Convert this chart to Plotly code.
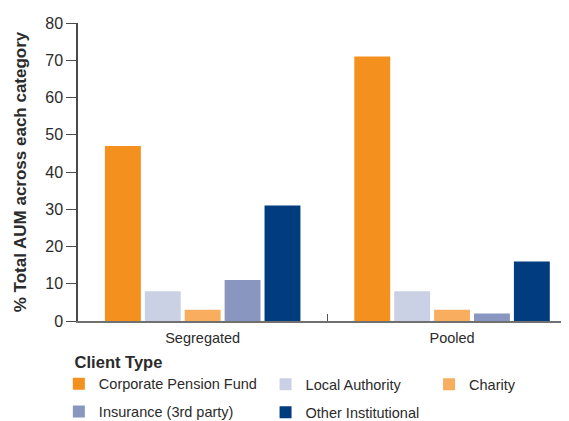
import plotly.graph_objects as go

categories = ["Segregated", "Pooled"]
client_types = ["Corporate Pension Fund", "Local Authority", "Charity",
                "Insurance (3rd party)", "Other Institutional"]
corporate_pension_fund = [47, 71]
local_authority = [8, 8]
charity = [3, 3]
insurance_3rd_party = [11, 2]
other_institutional = [31, 16]
y_ticks = [0, 10, 20, 30, 40, 50, 60, 70, 80]

series = [corporate_pension_fund, local_authority, charity,
          insurance_3rd_party, other_institutional]
colors = ["#F3901E", "#CAD1E5", "#F9AE5F", "#8896C0", "#013D7E"]
legend_ids = ["legend", "legend2", "legend3", "legend", "legend2"]

TXT = "#2b2b2b"
FONT = "Liberation Sans, Arial, Helvetica, sans-serif"

fig = go.Figure()
for name, vals, col, lg in zip(client_types, series, colors, legend_ids):
    fig.add_trace(go.Bar(
        x=categories, y=vals, name=name, marker_color=col,
        marker_line_width=0, legend=lg, legendgroup=name,
        hoverinfo="x+y+name",
    ))

legend_common = dict(
    orientation="v", bgcolor="rgba(0,0,0,0)", borderwidth=0,
    font=dict(family=FONT, size=14.5, color=TXT),
    traceorder="grouped", tracegroupgap=6, xanchor="left", yanchor="top",
    itemclick=False, itemdoubleclick=False,
)

# the page body adds an 8px margin, so the figure is 8px smaller
fig.update_layout(
    width=561, height=413,
    margin=dict(l=70, r=0, t=15, b=100, autoexpand=False),
    paper_bgcolor="white", plot_bgcolor="white",
    font=dict(family=FONT, size=14.5, color=TXT),
    barmode="group", bargap=0.2, bargroupgap=0.1,
    showlegend=True,
    legend=dict(**legend_common, x=-0.039, y=-0.085,
                title=dict(text="\u00a0\u00a0\u00a0<b>Client Type</b>",
                           font=dict(family=FONT, size=16.5, color=TXT))),
    legend2=dict(**legend_common, x=0.382, y=-0.159),
    legend3=dict(**legend_common, x=0.715, y=-0.159),
    xaxis=dict(
        range=[-0.5, 1.469], showline=True, linecolor="#707070", linewidth=2,
        ticks="inside", tickson="boundaries", ticklen=7, tickcolor="#555",
        tickfont=dict(family=FONT, size=14.5, color=TXT), ticklabelstandoff=3,
        showgrid=False, zeroline=False, fixedrange=True, automargin=False,
    ),
    yaxis=dict(
        range=[0, 80], tickvals=y_ticks, showline=True, linecolor="#4a4a4a",
        linewidth=1.5, ticks="outside", ticklen=10, tickcolor="#4a4a4a",
        tickfont=dict(family=FONT, size=16, color=TXT),
        showgrid=False, zeroline=False, fixedrange=True, automargin=False,
        title=dict(text="<b>% Total AUM across each category</b>",
                   font=dict(family=FONT, size=17, color=TXT), standoff=14),
    ),
)

fig.write_html("out.html")
